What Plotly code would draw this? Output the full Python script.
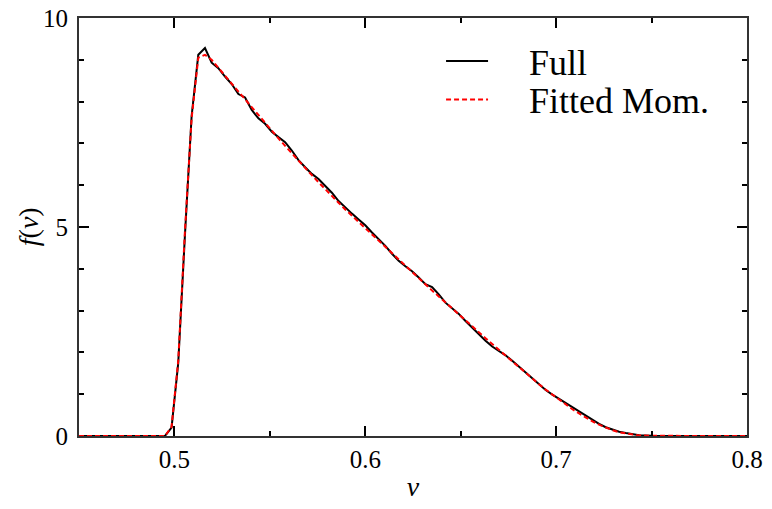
import plotly.graph_objects as go

nu = [0.45, 0.46, 0.47, 0.48, 0.49,
      0.4950, 0.4985, 0.5020, 0.5055, 0.5090, 0.5125, 0.5160, 0.5195, 0.5230, 0.5265,
      0.5300, 0.5335, 0.5370, 0.5405, 0.5440, 0.5475, 0.5510, 0.5545, 0.5580, 0.5615,
      0.5650, 0.5685, 0.5720, 0.5755, 0.5790, 0.5825, 0.5860, 0.5895, 0.5930, 0.5965,
      0.6000, 0.6035, 0.6070, 0.6105, 0.6140, 0.6175, 0.6210, 0.6245, 0.6280, 0.6315,
      0.6350, 0.6385, 0.6420, 0.6455, 0.6490, 0.6525, 0.6560, 0.6595, 0.6630, 0.6665,
      0.6700, 0.6735, 0.6770, 0.6805, 0.6840, 0.6875, 0.6910, 0.6945, 0.6980, 0.7015,
      0.7050, 0.7085, 0.7120, 0.7155, 0.7190, 0.7225, 0.7260, 0.7295, 0.7330, 0.7365,
      0.7400, 0.7435, 0.75, 0.76, 0.77, 0.78, 0.79, 0.80]

f_full = [0, 0, 0, 0, 0,
          0.00, 0.20, 1.75, 4.80, 7.65, 9.12, 9.28, 8.93, 8.80, 8.60,
          8.42, 8.18, 8.10, 7.80, 7.60, 7.47, 7.28, 7.15, 7.03, 6.83,
          6.60, 6.43, 6.27, 6.15, 5.98, 5.82, 5.62, 5.46, 5.32, 5.18,
          5.04, 4.87, 4.72, 4.55, 4.36, 4.19, 4.06, 3.94, 3.79, 3.63,
          3.56, 3.39, 3.19, 3.06, 2.92, 2.75, 2.59, 2.43, 2.28, 2.14,
          2.04, 1.93, 1.80, 1.66, 1.52, 1.38, 1.24, 1.10, 0.99, 0.89,
          0.79, 0.69, 0.59, 0.49, 0.38, 0.29, 0.21, 0.15, 0.10, 0.07,
          0.04, 0.02, 0.005, 0, 0, 0, 0, 0]

f_fit = [0, 0, 0, 0, 0,
         0.00, 0.22, 1.80, 4.90, 7.60, 9.05, 9.12, 9.00, 8.82, 8.62,
         8.43, 8.24, 8.05, 7.86, 7.67, 7.48, 7.30, 7.12, 6.94, 6.76,
         6.58, 6.41, 6.24, 6.07, 5.90, 5.74, 5.58, 5.42, 5.27, 5.11,
         4.96, 4.81, 4.66, 4.51, 4.36, 4.21, 4.06, 3.92, 3.77, 3.62,
         3.48, 3.34, 3.19, 3.05, 2.91, 2.77, 2.62, 2.48, 2.34, 2.20,
         2.06, 1.92, 1.78, 1.64, 1.51, 1.37, 1.24, 1.11, 0.99, 0.87,
         0.75, 0.64, 0.54, 0.44, 0.35, 0.27, 0.20, 0.14, 0.09, 0.06,
         0.03, 0.015, 0.004, 0, 0, 0, 0, 0]

names = ["Full", "Fitted Mom."]
x_ticks = [0.5, 0.6, 0.7, 0.8]
x_labels = ["0.5", "0.6", "0.7", "0.8"]
y_ticks = [0, 5, 10]
y_labels = ["0", "5", "10"]

FONT = "Liberation Serif"
pad = "\u00a0" * 4

fig = go.Figure()
fig.add_trace(go.Scatter(x=nu, y=f_full, mode="lines", name=pad + names[0],
                         line=dict(color="black", width=2), legend="legend"))
fig.add_trace(go.Scatter(x=nu, y=f_fit, mode="lines", name=pad + names[1],
                         line=dict(color="#ff0000", width=2, dash="5px,3px"), legend="legend2"))

axis_common = dict(showline=True, linecolor="#333333", linewidth=2, mirror="allticks",
                   ticks="inside", ticklen=10, tickwidth=2, tickcolor="black",
                   showgrid=False, zeroline=False, automargin=False,
                   tickfont=dict(family=FONT, size=25, color="black"))

fig.update_xaxes(range=[0.45, 0.8], tickmode="array", tickvals=x_ticks, ticktext=x_labels,
                 minor=dict(ticks="inside", ticklen=5, tickwidth=1.5, tickcolor="black",
                            tickmode="linear", tick0=0.45, dtick=0.05),
                 title=dict(text="<i>ν</i>", font=dict(family=FONT, size=28, color="black"),
                            standoff=4),
                 ticklabelstandoff=0,
                 **axis_common)
fig.update_yaxes(range=[0, 10], tickmode="array", tickvals=y_ticks, ticktext=y_labels,
                 minor=dict(ticks="inside", ticklen=5, tickwidth=1.5, tickcolor="black",
                            tickmode="linear", tick0=0, dtick=1),
                 ticklabelstandoff=4,
                 **axis_common)

fig.add_annotation(text="<i>f</i>(<i>ν</i>)", xref="paper", yref="paper",
                   x=-0.076, y=0.5, xanchor="center", yanchor="middle",
                   textangle=-90, showarrow=False,
                   font=dict(family=FONT, size=28, color="black"))

leg_common = dict(xanchor="left", yanchor="middle", bgcolor="rgba(0,0,0,0)", borderwidth=0,
                  font=dict(family=FONT, size=36, color="black"), itemwidth=42)

fig.update_layout(
    width=772, height=509,
    margin=dict(l=79, r=25, t=18, b=73),
    plot_bgcolor="white", paper_bgcolor="white",
    showlegend=True,
    legend=dict(x=0.542, y=0.897, **leg_common),
    legend2=dict(x=0.542, y=0.805, **leg_common),
)

fig.write_html("out.html", config={"displayModeBar": False},
               post_script="document.body.style.margin='0';")
